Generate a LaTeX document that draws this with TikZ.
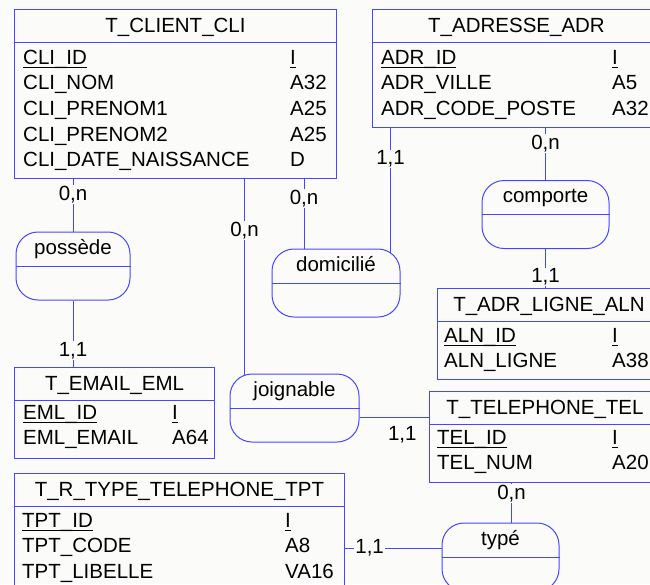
\documentclass[tikz,border=0pt]{standalone}
\usepackage{fontspec}
\setmainfont{Liberation Sans}
\usepackage{tikz}
\usetikzlibrary{positioning}

\definecolor{merise}{RGB}{70,70,255}
\definecolor{paper}{RGB}{251,252,250}

% identifiant souligne au niveau du tiret bas
\newcommand{\pk}[1]{\setbox0=\hbox{#1}\rlap{\rule[-0.21em]{\wd0}{0.07em}}\box0}

\tikzset{
  entity/.style={draw=merise, line width=1pt, rectangle, anchor=north west, inner sep=0pt},
  asso/.style={draw=merise, line width=1pt, rectangle, rounded corners=22pt,
    minimum height=68pt, inner sep=0pt},
  entname/.style={anchor=base, inner sep=0pt},
  link/.style={draw=merise, line width=1pt},
  card/.style={fill=paper, inner sep=1pt}
}

\begin{document}
\begin{tikzpicture}[x=1pt, y=-1pt, font=\fontsize{20.5}{25}\selectfont]
  \fill[paper] (0,0) rectangle (650,584);
  \useasboundingbox (0,0) rectangle (650,584);
  \clip (0,0) rectangle (650,584);

  %Tables
  \node[entity, minimum width=322pt, minimum height=169pt] (cli) at (14,9) {};
  \node[entity, minimum width=288pt, minimum height=118pt] (adr) at (372,9) {};
  \node[entity, minimum width=223pt, minimum height=91pt] (aln) at (437,288) {};
  \node[entity, minimum width=231pt, minimum height=91pt] (tel) at (429,391) {};
  \node[entity, minimum width=200pt, minimum height=91pt] (eml) at (14,367) {};
  \node[entity, minimum width=330pt, minimum height=130pt] (tpt) at (14,473) {};

  \foreach \t in {cli,adr,aln,tel,eml,tpt}
    \draw[link] ([yshift=-33pt]\t.north west) -- ([yshift=-33pt]\t.north east);

  \node[entname] (cli-name) at ([yshift=-23pt]cli.north) {T\_CLIENT\_CLI};
  \node[entname] (adr-name) at ([yshift=-23pt]adr.north) {T\_ADRESSE\_ADR};
  \node[entname] (aln-name) at ([yshift=-23pt]aln.north) {T\_ADR\_LIGNE\_ALN};
  \node[entname] (tel-name) at ([yshift=-23pt]tel.north) {T\_TELEPHONE\_TEL};
  \node[entname] (eml-name) at ([yshift=-23pt]eml.north) {T\_EMAIL\_EML};
  \node[entname] (tpt-name) at ([yshift=-23pt]tpt.north) {T\_R\_TYPE\_TELEPHONE\_TPT};

  \begin{scope}[every node/.style={anchor=base west, inner sep=0pt}]
    %T_CLIENT_CLI
    \node (cli-id) at (23,64) {\pk{CLI\_ID}};
    \node (cli-id-t) at (290,64) {\pk{I}};
    \node (cli-nom) at (23,89.7) {CLI\_NOM};
    \node (cli-nom-t) at (290,89.7) {A32};
    \node (cli-pr1) at (23,115.4) {CLI\_PRENOM1};
    \node (cli-pr1-t) at (290,115.4) {A25};
    \node (cli-pr2) at (23,141.1) {CLI\_PRENOM2};
    \node (cli-pr2-t) at (290,141.1) {A25};
    \node (cli-dn) at (23,166.8) {CLI\_DATE\_NAISSANCE};
    \node (cli-dn-t) at (290,166.8) {D};
    %T_ADRESSE_ADR
    \node (adr-id) at (381,64) {\pk{ADR\_ID}};
    \node (adr-id-t) at (612,64) {\pk{I}};
    \node (adr-ville) at (381,89.7) {ADR\_VILLE};
    \node (adr-ville-t) at (612,89.7) {A5};
    \node (adr-cp) at (381,115.4) {ADR\_CODE\_POSTE};
    \node (adr-cp-t) at (612,115.4) {A32};
    %T_ADR_LIGNE_ALN
    \node (aln-id) at (444,342) {\pk{ALN\_ID}};
    \node (aln-id-t) at (612,342) {\pk{I}};
    \node (aln-ligne) at (444,367.7) {ALN\_LIGNE};
    \node (aln-ligne-t) at (612,367.7) {A38};
    %T_TELEPHONE_TEL
    \node (tel-id) at (437,444) {\pk{TEL\_ID}};
    \node (tel-id-t) at (612,444) {\pk{I}};
    \node (tel-num) at (437,469.7) {TEL\_NUM};
    \node (tel-num-t) at (612,469.7) {A20};
    %T_EMAIL_EML
    \node (eml-id) at (23,419) {\pk{EML\_ID}};
    \node (eml-id-t) at (172,419) {\pk{I}};
    \node (eml-mail) at (23,444.7) {EML\_EMAIL};
    \node (eml-mail-t) at (172,444.7) {A64};
    %T_R_TYPE_TELEPHONE_TPT
    \node (tpt-id) at (22,527) {\pk{TPT\_ID}};
    \node (tpt-id-t) at (285,527) {\pk{I}};
    \node (tpt-code) at (22,552.7) {TPT\_CODE};
    \node (tpt-code-t) at (285,552.7) {A8};
    \node (tpt-lib) at (22,578.4) {TPT\_LIBELLE};
    \node (tpt-lib-t) at (285,578.4) {VA16};
  \end{scope}

  %Associations
  \node[asso, minimum width=114pt] (poss) at (73,266) {};
  \node[asso, minimum width=129pt] (joig) at (294.5,408) {};
  \node[asso, minimum width=128pt] (dom) at (336,283) {};
  \node[asso, minimum width=127pt] (comp) at (545.5,214.5) {};
  \node[asso, minimum width=117pt] (typ) at (500.5,557) {};

  \foreach \a in {poss,joig,dom,comp,typ}
    \draw[link] (\a.west) -- (\a.east);

  \node[entname] (poss-name) at ([yshift=-23pt]poss.north) {possède};
  \node[entname] (joig-name) at ([yshift=-23pt]joig.north) {joignable};
  \node[entname] (dom-name) at ([yshift=-23pt]dom.north) {domicilié};
  \node[entname] (comp-name) at ([yshift=-22pt]comp.north) {comporte};
  \node[entname] (typ-name) at ([yshift=-23pt]typ.north) {typé};

  %Links
  \coordinate (joig-a) at ([xshift=15pt,yshift=-1pt]joig.north west);
  \coordinate (joig-b) at ([yshift=-9pt]joig.east);
  \coordinate (dom-a) at ([xshift=-32pt]dom.north);
  \coordinate (dom-b) at ([xshift=-10pt,yshift=-4pt]dom.north east);
  \coordinate (typ-a) at ([xshift=11pt]typ.north);
  \coordinate (typ-b) at ([yshift=9pt]typ.west);

  \draw[link] (cli.south -| poss.north) -- node[card, pos=.3] (c-cli-poss) {0,n} (poss.north);
  \draw[link] (poss.south) -- node[card, pos=.75] (c-eml-poss) {1,1} (poss.south |- eml.north);
  \draw[link] (cli.south -| joig-a) -- node[card, pos=.264] (c-cli-joig) {0,n} (joig-a);
  \draw[link] (cli.south -| dom-a) -- node[card, pos=.28] (c-cli-dom) {0,n} (dom-a);
  \draw[link] (adr.south -| dom-b) -- node[card, pos=.25] (c-adr-dom) {1,1} (dom-b);
  \draw[link] (adr.south -| comp.north) -- node[card, pos=.3] (c-adr-comp) {0,n} (comp.north);
  \draw[link] (comp.south) -- node[card, pos=.72] (c-aln-comp) {1,1} (comp.south |- aln.north);
  \draw[link] (joig-b) -- (joig-b -| tel.west)
    node[pos=1, anchor=base east, xshift=-12pt, yshift=-23pt, inner sep=0pt] (c-tel-joig) {1,1};
  \draw[link] (tel.south -| typ-a) -- node[card, pos=.27] (c-tel-typ) {0,n} (typ-a);
  \draw[link] (tpt.east |- typ-b) -- node[card, pos=.255] (c-tpt-typ) {1,1} (typ-b);
\end{tikzpicture}
\end{document}
